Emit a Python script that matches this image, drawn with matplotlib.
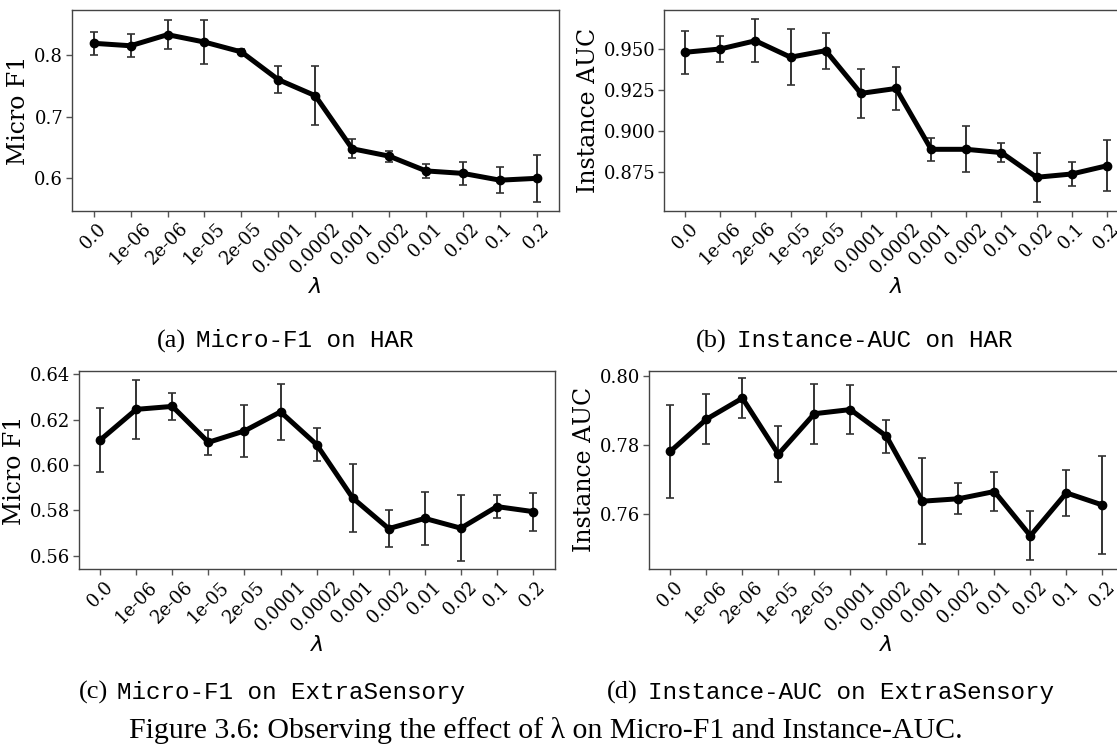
import matplotlib
matplotlib.use('Agg')
import matplotlib.pyplot as plt
from matplotlib.ticker import MultipleLocator

# lambda values on the x axis
lambdas = ['0.0', '1e-06', '2e-06', '1e-05', '2e-05', '0.0001', '0.0002',
           '0.001', '0.002', '0.01', '0.02', '0.1', '0.2']

# (a) Micro-F1 on HAR
har_f1 = [0.819, 0.815, 0.833, 0.821, 0.805, 0.760, 0.734, 0.648, 0.636, 0.612, 0.608, 0.597, 0.600]
har_f1_std = [0.019, 0.019, 0.024, 0.035, 0.004, 0.022, 0.048, 0.015, 0.009, 0.011, 0.019, 0.021, 0.038]

# (b) Instance-AUC on HAR
har_auc = [0.948, 0.950, 0.955, 0.945, 0.949, 0.923, 0.926, 0.889, 0.889, 0.887, 0.872, 0.874, 0.879]
har_auc_std = [0.013, 0.008, 0.013, 0.017, 0.011, 0.015, 0.013, 0.007, 0.014, 0.006, 0.015, 0.007, 0.0155]

# (c) Micro-F1 on ExtraSensory
es_f1 = [0.611, 0.6245, 0.6258, 0.610, 0.615, 0.6234, 0.609, 0.5855, 0.572, 0.5765, 0.5722, 0.5817, 0.5795]
es_f1_std = [0.014, 0.013, 0.006, 0.0055, 0.0115, 0.0123, 0.0072, 0.0148, 0.008, 0.0117, 0.0146, 0.005, 0.0084]

# (d) Instance-AUC on ExtraSensory
es_auc = [0.7782, 0.7875, 0.7936, 0.7774, 0.7891, 0.7903, 0.7826, 0.7638, 0.7645, 0.7666, 0.7538, 0.7662, 0.7627]
es_auc_std = [0.0135, 0.0072, 0.0057, 0.0081, 0.0087, 0.0072, 0.0048, 0.0125, 0.0045, 0.0057, 0.0071, 0.0067, 0.0141]

W, H = 1117, 748
fig = plt.figure(figsize=(W / 100, H / 100), dpi=100)


def box(l, t, r, b):
    # pixel box -> figure fraction
    return [l / W, 1 - b / H, (r - l) / W, (b - t) / H]


panels = [
    (box(71.5, 10, 559, 211), har_f1, har_f1_std, 'Micro F1', 0.1, (0.547, 0.873)),
    (box(664, 10, 1128, 211), har_auc, har_auc_std, 'Instance AUC', 0.025, (0.8515, 0.9737)),
    (box(78.6, 370.5, 554.6, 569.3), es_f1, es_f1_std, 'Micro F1', 0.02, (0.5541, 0.6416)),
    (box(648.8, 370.5, 1124, 569.3), es_auc, es_auc_std, 'Instance AUC', 0.02, (0.7441, 0.8016)),
]

x = list(range(len(lambdas)))
for rect, vals, std, ylab, step, ylim in panels:
    ax = fig.add_axes(rect)
    ax.errorbar(x, vals, yerr=std, color='black', lw=3.6, marker='o', ms=6,
                ecolor='#333333', elinewidth=1.4, capsize=3, capthick=1.2)
    ax.set_ylim(*ylim)
    ax.yaxis.set_major_locator(MultipleLocator(step))
    ax.set_xticks(x)
    ax.set_xticklabels(lambdas, rotation=45, family='DejaVu Serif', fontsize=13)
    for lab in ax.get_yticklabels():
        lab.set_family('DejaVu Serif')
        lab.set_fontsize(13)
    ax.set_ylabel(ylab, family='DejaVu Serif', fontsize=17, labelpad=3)
    ax.set_xlabel(r'$\lambda$', fontsize=16, labelpad=0)
    for sp in ax.spines.values():
        sp.set_color('#444444')
        sp.set_linewidth(1.0)
    ax.tick_params(color='#555555', length=4, width=1, pad=2)

# sub-captions
caps = [
    (157, 196, 341, '(a)', 'Micro-F1 on HAR'),
    (696, 737, 341, '(b)', 'Instance-AUC on HAR'),
    (79, 117, 692, '(c)', 'Micro-F1 on ExtraSensory'),
    (607, 648, 692, '(d)', 'Instance-AUC on ExtraSensory'),
]
for xl, xm, yc, tag, txt in caps:
    fig.text(xl / W, 1 - yc / H, tag, family='Liberation Serif', fontsize=19,
             ha='left', va='center')
    fig.text(xm / W, 1 - yc / H, txt, family='Liberation Mono', fontsize=17.5,
             ha='left', va='center')

fig.text(546 / W, 1 - 730 / H,
         'Figure 3.6: Observing the effect of \u03bb on Micro-F1 and Instance-AUC.',
         family='Liberation Serif', fontsize=21.5, ha='center', va='center')

fig.savefig('out.png', dpi=100)
